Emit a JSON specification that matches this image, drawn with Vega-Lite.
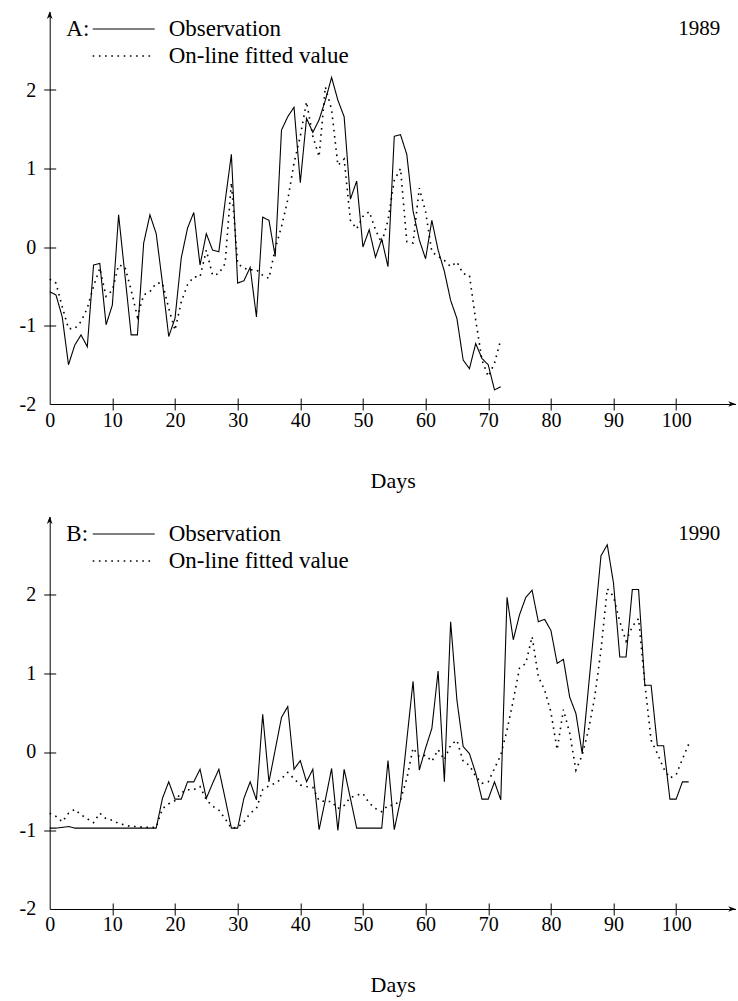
{
  "$schema": "https://vega.github.io/schema/vega-lite/v6.json",
  "background": "white",
  "padding": {"left": 18.7, "top": 11.5, "right": 0, "bottom": 0},
  "spacing": 25,
  "resolve": {"scale": {"strokeDash": "independent", "strokeWidth": "independent"}, "legend": {"strokeDash": "independent"}},
  "config": {
    "view": {"stroke": null},
    "font": "Liberation Serif",
    "axis": {"grid": false, "domainColor": "black", "tickColor": "black", "labelColor": "black", "labelFont": "Liberation Serif", "labelFontSize": 20, "titleFont": "Liberation Serif", "titleFontSize": 22, "titleFontWeight": "normal", "titleColor": "black", "domainWidth": 1, "tickWidth": 1},
    "legend": {"labelFont": "Liberation Serif", "titleFont": "Liberation Serif"}
  },
  "datasets": {
    "a": [
      {"day":0,"Observation":-0.57,"On-line fitted value":-0.41},
      {"day":1,"Observation":-0.61,"On-line fitted value":-0.46},
      {"day":2,"Observation":-0.89,"On-line fitted value":-0.76},
      {"day":3,"Observation":-1.50,"On-line fitted value":-1.04},
      {"day":4,"Observation":-1.25,"On-line fitted value":-1.04},
      {"day":5,"Observation":-1.12,"On-line fitted value":-0.95},
      {"day":6,"Observation":-1.27,"On-line fitted value":-0.78},
      {"day":7,"Observation":-0.23,"On-line fitted value":-0.50},
      {"day":8,"Observation":-0.21,"On-line fitted value":-0.27},
      {"day":9,"Observation":-0.99,"On-line fitted value":-0.63},
      {"day":10,"Observation":-0.74,"On-line fitted value":-0.55},
      {"day":11,"Observation":0.41,"On-line fitted value":-0.23},
      {"day":12,"Observation":-0.35,"On-line fitted value":-0.25},
      {"day":13,"Observation":-1.12,"On-line fitted value":-0.55},
      {"day":14,"Observation":-1.12,"On-line fitted value":-0.89},
      {"day":15,"Observation":0.05,"On-line fitted value":-0.61},
      {"day":16,"Observation":0.41,"On-line fitted value":-0.57},
      {"day":17,"Observation":0.17,"On-line fitted value":-0.46},
      {"day":18,"Observation":-0.46,"On-line fitted value":-0.46},
      {"day":19,"Observation":-1.14,"On-line fitted value":-0.78},
      {"day":20,"Observation":-0.91,"On-line fitted value":-1.06},
      {"day":21,"Observation":-0.14,"On-line fitted value":-0.70},
      {"day":22,"Observation":0.24,"On-line fitted value":-0.48},
      {"day":23,"Observation":0.44,"On-line fitted value":-0.38},
      {"day":24,"Observation":-0.23,"On-line fitted value":-0.38},
      {"day":25,"Observation":0.17,"On-line fitted value":-0.04},
      {"day":26,"Observation":-0.04,"On-line fitted value":-0.36},
      {"day":27,"Observation":-0.06,"On-line fitted value":-0.34},
      {"day":28,"Observation":0.58,"On-line fitted value":-0.21},
      {"day":29,"Observation":1.18,"On-line fitted value":0.82},
      {"day":30,"Observation":-0.46,"On-line fitted value":-0.21},
      {"day":31,"Observation":-0.43,"On-line fitted value":-0.27},
      {"day":32,"Observation":-0.26,"On-line fitted value":-0.29},
      {"day":33,"Observation":-0.89,"On-line fitted value":-0.29},
      {"day":34,"Observation":0.38,"On-line fitted value":-0.36},
      {"day":35,"Observation":0.34,"On-line fitted value":-0.40},
      {"day":36,"Observation":-0.12,"On-line fitted value":-0.02},
      {"day":37,"Observation":1.49,"On-line fitted value":0.26},
      {"day":38,"Observation":1.66,"On-line fitted value":0.60},
      {"day":39,"Observation":1.78,"On-line fitted value":1.07},
      {"day":40,"Observation":0.82,"On-line fitted value":1.41},
      {"day":41,"Observation":1.64,"On-line fitted value":1.85},
      {"day":42,"Observation":1.46,"On-line fitted value":1.41},
      {"day":43,"Observation":1.62,"On-line fitted value":1.15},
      {"day":44,"Observation":1.87,"On-line fitted value":2.04},
      {"day":45,"Observation":2.16,"On-line fitted value":1.75},
      {"day":46,"Observation":1.87,"On-line fitted value":1.04},
      {"day":47,"Observation":1.66,"On-line fitted value":1.12},
      {"day":48,"Observation":0.61,"On-line fitted value":0.34},
      {"day":49,"Observation":0.84,"On-line fitted value":0.23},
      {"day":50,"Observation":0.00,"On-line fitted value":0.39},
      {"day":51,"Observation":0.22,"On-line fitted value":0.45},
      {"day":52,"Observation":-0.13,"On-line fitted value":0.22},
      {"day":53,"Observation":0.10,"On-line fitted value":0.05},
      {"day":54,"Observation":-0.25,"On-line fitted value":0.34},
      {"day":55,"Observation":1.41,"On-line fitted value":0.85},
      {"day":56,"Observation":1.43,"On-line fitted value":1.00},
      {"day":57,"Observation":1.18,"On-line fitted value":0.07},
      {"day":58,"Observation":0.46,"On-line fitted value":0.05},
      {"day":59,"Observation":0.09,"On-line fitted value":0.75},
      {"day":60,"Observation":-0.15,"On-line fitted value":0.45},
      {"day":61,"Observation":0.34,"On-line fitted value":-0.06},
      {"day":62,"Observation":-0.04,"On-line fitted value":-0.12},
      {"day":63,"Observation":-0.31,"On-line fitted value":-0.17},
      {"day":64,"Observation":-0.68,"On-line fitted value":-0.25},
      {"day":65,"Observation":-0.91,"On-line fitted value":-0.19},
      {"day":66,"Observation":-1.44,"On-line fitted value":-0.34},
      {"day":67,"Observation":-1.55,"On-line fitted value":-0.36},
      {"day":68,"Observation":-1.23,"On-line fitted value":-0.93},
      {"day":69,"Observation":-1.42,"On-line fitted value":-1.44},
      {"day":70,"Observation":-1.50,"On-line fitted value":-1.65},
      {"day":71,"Observation":-1.82,"On-line fitted value":-1.48},
      {"day":72,"Observation":-1.78,"On-line fitted value":-1.18}
    ],
    "b": [
      {"day":0,"Observation":-0.97,"On-line fitted value":-0.78},
      {"day":1,"Observation":-0.97,"On-line fitted value":-0.82},
      {"day":2,"Observation":-0.96,"On-line fitted value":-0.89},
      {"day":3,"Observation":-0.95,"On-line fitted value":-0.78},
      {"day":4,"Observation":-0.97,"On-line fitted value":-0.73},
      {"day":5,"Observation":-0.97,"On-line fitted value":-0.80},
      {"day":6,"Observation":-0.97,"On-line fitted value":-0.85},
      {"day":7,"Observation":-0.97,"On-line fitted value":-0.90},
      {"day":8,"Observation":-0.97,"On-line fitted value":-0.78},
      {"day":9,"Observation":-0.97,"On-line fitted value":-0.85},
      {"day":10,"Observation":-0.97,"On-line fitted value":-0.87},
      {"day":11,"Observation":-0.97,"On-line fitted value":-0.91},
      {"day":12,"Observation":-0.97,"On-line fitted value":-0.93},
      {"day":13,"Observation":-0.97,"On-line fitted value":-0.95},
      {"day":14,"Observation":-0.97,"On-line fitted value":-0.95},
      {"day":15,"Observation":-0.97,"On-line fitted value":-0.96},
      {"day":16,"Observation":-0.97,"On-line fitted value":-0.96},
      {"day":17,"Observation":-0.97,"On-line fitted value":-0.96},
      {"day":18,"Observation":-0.59,"On-line fitted value":-0.72},
      {"day":19,"Observation":-0.38,"On-line fitted value":-0.66},
      {"day":20,"Observation":-0.60,"On-line fitted value":-0.62},
      {"day":21,"Observation":-0.60,"On-line fitted value":-0.52},
      {"day":22,"Observation":-0.38,"On-line fitted value":-0.48},
      {"day":23,"Observation":-0.38,"On-line fitted value":-0.48},
      {"day":24,"Observation":-0.22,"On-line fitted value":-0.44},
      {"day":25,"Observation":-0.59,"On-line fitted value":-0.61},
      {"day":26,"Observation":-0.40,"On-line fitted value":-0.69},
      {"day":27,"Observation":-0.22,"On-line fitted value":-0.74},
      {"day":28,"Observation":-0.59,"On-line fitted value":-0.85},
      {"day":29,"Observation":-0.97,"On-line fitted value":-0.97},
      {"day":30,"Observation":-0.97,"On-line fitted value":-0.96},
      {"day":31,"Observation":-0.59,"On-line fitted value":-0.89},
      {"day":32,"Observation":-0.38,"On-line fitted value":-0.78},
      {"day":33,"Observation":-0.61,"On-line fitted value":-0.72},
      {"day":34,"Observation":0.48,"On-line fitted value":-0.48},
      {"day":35,"Observation":-0.38,"On-line fitted value":-0.43},
      {"day":36,"Observation":0.03,"On-line fitted value":-0.40},
      {"day":37,"Observation":0.44,"On-line fitted value":-0.34},
      {"day":38,"Observation":0.58,"On-line fitted value":-0.26},
      {"day":39,"Observation":-0.22,"On-line fitted value":-0.34},
      {"day":40,"Observation":-0.11,"On-line fitted value":-0.42},
      {"day":41,"Observation":-0.38,"On-line fitted value":-0.44},
      {"day":42,"Observation":-0.22,"On-line fitted value":-0.45},
      {"day":43,"Observation":-0.99,"On-line fitted value":-0.62},
      {"day":44,"Observation":-0.61,"On-line fitted value":-0.63},
      {"day":45,"Observation":-0.21,"On-line fitted value":-0.63},
      {"day":46,"Observation":-1.00,"On-line fitted value":-0.72},
      {"day":47,"Observation":-0.22,"On-line fitted value":-0.68},
      {"day":48,"Observation":-0.59,"On-line fitted value":-0.58},
      {"day":49,"Observation":-0.97,"On-line fitted value":-0.55},
      {"day":50,"Observation":-0.97,"On-line fitted value":-0.53},
      {"day":51,"Observation":-0.97,"On-line fitted value":-0.65},
      {"day":52,"Observation":-0.97,"On-line fitted value":-0.72},
      {"day":53,"Observation":-0.97,"On-line fitted value":-0.76},
      {"day":54,"Observation":-0.11,"On-line fitted value":-0.68},
      {"day":55,"Observation":-0.99,"On-line fitted value":-0.68},
      {"day":56,"Observation":-0.61,"On-line fitted value":-0.61},
      {"day":57,"Observation":0.15,"On-line fitted value":-0.34},
      {"day":58,"Observation":0.90,"On-line fitted value":0.05},
      {"day":59,"Observation":-0.23,"On-line fitted value":-0.06},
      {"day":60,"Observation":0.05,"On-line fitted value":-0.04},
      {"day":61,"Observation":0.30,"On-line fitted value":-0.12},
      {"day":62,"Observation":1.03,"On-line fitted value":0.03},
      {"day":63,"Observation":-0.38,"On-line fitted value":-0.10},
      {"day":64,"Observation":1.66,"On-line fitted value":0.09},
      {"day":65,"Observation":0.66,"On-line fitted value":0.15},
      {"day":66,"Observation":0.07,"On-line fitted value":-0.12},
      {"day":67,"Observation":-0.02,"On-line fitted value":-0.17},
      {"day":68,"Observation":-0.27,"On-line fitted value":-0.31},
      {"day":69,"Observation":-0.60,"On-line fitted value":-0.40},
      {"day":70,"Observation":-0.60,"On-line fitted value":-0.38},
      {"day":71,"Observation":-0.38,"On-line fitted value":-0.21},
      {"day":72,"Observation":-0.61,"On-line fitted value":-0.04},
      {"day":73,"Observation":1.97,"On-line fitted value":0.28},
      {"day":74,"Observation":1.43,"On-line fitted value":0.66},
      {"day":75,"Observation":1.75,"On-line fitted value":1.07},
      {"day":76,"Observation":1.97,"On-line fitted value":1.13},
      {"day":77,"Observation":2.06,"On-line fitted value":1.47},
      {"day":78,"Observation":1.66,"On-line fitted value":0.96},
      {"day":79,"Observation":1.69,"On-line fitted value":0.79},
      {"day":80,"Observation":1.55,"On-line fitted value":0.51},
      {"day":81,"Observation":1.13,"On-line fitted value":0.03},
      {"day":82,"Observation":1.18,"On-line fitted value":0.54},
      {"day":83,"Observation":0.70,"On-line fitted value":0.24},
      {"day":84,"Observation":0.49,"On-line fitted value":-0.23},
      {"day":85,"Observation":-0.02,"On-line fitted value":-0.04},
      {"day":86,"Observation":0.82,"On-line fitted value":0.28},
      {"day":87,"Observation":1.66,"On-line fitted value":0.70},
      {"day":88,"Observation":2.50,"On-line fitted value":1.30},
      {"day":89,"Observation":2.64,"On-line fitted value":2.08},
      {"day":90,"Observation":2.15,"On-line fitted value":1.98},
      {"day":91,"Observation":1.21,"On-line fitted value":1.66},
      {"day":92,"Observation":1.21,"On-line fitted value":1.41},
      {"day":93,"Observation":2.07,"On-line fitted value":1.60},
      {"day":94,"Observation":2.07,"On-line fitted value":1.70},
      {"day":95,"Observation":0.85,"On-line fitted value":0.87},
      {"day":96,"Observation":0.85,"On-line fitted value":0.15},
      {"day":97,"Observation":0.08,"On-line fitted value":-0.02},
      {"day":98,"Observation":0.08,"On-line fitted value":-0.21},
      {"day":99,"Observation":-0.60,"On-line fitted value":-0.33},
      {"day":100,"Observation":-0.60,"On-line fitted value":-0.29},
      {"day":101,"Observation":-0.38,"On-line fitted value":-0.09},
      {"day":102,"Observation":-0.38,"On-line fitted value":0.10}
    ]
  },
  "vconcat": [
    {
      "width": 686, "height": 392.5,
      "layer": [
        {
          "data": {"name": "a"},
          "transform": [{"fold": ["Observation", "On-line fitted value"], "as": ["series", "value"]}],
          "mark": {"type": "line", "color": "black"},
          "encoding": {
            "x": {"field": "day", "type": "quantitative", "scale": {"domain": [0, 109.5], "nice": false, "zero": false},
                  "axis": {"orient": "bottom", "values": [0,10,20,30,40,50,60,70,80,90,100], "ticks": false, "tickSize": 0, "labelPadding": 6, "labelFlush": false, "labelOverlap": false, "title": "Days", "titlePadding": 40}},
            "y": {"field": "value", "type": "quantitative", "scale": {"domain": [-2, 3], "nice": false, "zero": false},
                  "axis": {"orient": "left", "values": [-2,-1,0,1,2], "ticks": false, "tickSize": 0, "labelPadding": 14, "labelExpr": "replace(datum.label, '\u2212', '-')", "title": null}},
            "strokeWidth": {"field": "series", "type": "nominal", "scale": {"domain": ["Observation", "On-line fitted value"], "range": [1.1, 1.6]}, "legend": null},
            "strokeDash": {"field": "series", "type": "nominal", "scale": {"domain": ["Observation", "On-line fitted value"], "range": [[1, 0], [1.6, 4.6]]},
                  "legend": {"orient": "none", "legendX": 42, "legendY": 4, "title": null, "symbolType": "stroke", "symbolSize": 3844, "clipHeight": 27, "symbolStrokeWidth": 1.3, "symbolStrokeColor": "black", "labelFontSize": 23, "labelColor": "black", "labelOffset": 13, "rowPadding": 0, "labelLimit": 400}}
          }
        },
        {
          "data": {"values": [{}]},
          "mark": {"type": "point", "shape": "M0,0L-1,-0.38L-0.7,0L-1,0.38Z", "filled": true, "color": "black", "opacity": 1, "size": 225},
          "encoding": {
            "x": {"datum": 109.5, "type": "quantitative", "axis": {"orient": "bottom", "values": [10,20,30,40,50,60,70,80,90,100], "domain": false, "labels": false, "ticks": true, "tickSize": 12, "offset": -6, "title": null}},
            "y": {"datum": -2, "type": "quantitative", "axis": {"orient": "left", "values": [-1,0,1,2], "domain": false, "labels": false, "ticks": true, "tickSize": 12, "offset": -6, "title": null}}
          }
        },
        {
          "data": {"values": [{}]},
          "mark": {"type": "point", "shape": "M0,0L-0.38,1L0,0.7L0.38,1Z", "filled": true, "color": "black", "opacity": 1, "size": 225},
          "encoding": {
            "x": {"datum": 0, "type": "quantitative", "axis": null},
            "y": {"datum": 3, "type": "quantitative", "axis": null}
          }
        },
        {
          "data": {"values": [{}]},
          "mark": {"type": "text", "align": "right", "baseline": "middle", "fontSize": 21, "font": "Liberation Serif", "color": "black"},
          "encoding": {
            "x": {"datum": 107.05, "type": "quantitative", "axis": null},
            "y": {"datum": 2.78, "type": "quantitative", "axis": null},
            "text": {"value": "1989"}
          }
        },
        {
          "data": {"values": [{}]},
          "mark": {"type": "text", "align": "left", "baseline": "middle", "fontSize": 23, "font": "Liberation Serif", "color": "black"},
          "encoding": {
            "x": {"datum": 2.65, "type": "quantitative", "axis": null},
            "y": {"datum": 2.78, "type": "quantitative", "axis": null},
            "text": {"value": "A:"}
          }
        }
      ],
      "resolve": {"axis": {"x": "independent", "y": "independent"}}
    },
    {
      "width": 686, "height": 392.5,
      "layer": [
        {
          "data": {"name": "b"},
          "transform": [{"fold": ["Observation", "On-line fitted value"], "as": ["series", "value"]}],
          "mark": {"type": "line", "color": "black"},
          "encoding": {
            "x": {"field": "day", "type": "quantitative", "scale": {"domain": [0, 109.5], "nice": false, "zero": false},
                  "axis": {"orient": "bottom", "values": [0,10,20,30,40,50,60,70,80,90,100], "ticks": false, "tickSize": 0, "labelPadding": 6, "labelFlush": false, "labelOverlap": false, "title": "Days", "titlePadding": 40}},
            "y": {"field": "value", "type": "quantitative", "scale": {"domain": [-2, 3], "nice": false, "zero": false},
                  "axis": {"orient": "left", "values": [-2,-1,0,1,2], "ticks": false, "tickSize": 0, "labelPadding": 14, "labelExpr": "replace(datum.label, '\u2212', '-')", "title": null}},
            "strokeWidth": {"field": "series", "type": "nominal", "scale": {"domain": ["Observation", "On-line fitted value"], "range": [1.1, 1.6]}, "legend": null},
            "strokeDash": {"field": "series", "type": "nominal", "scale": {"domain": ["Observation", "On-line fitted value"], "range": [[1, 0], [1.6, 4.6]]},
                  "legend": {"orient": "none", "legendX": 42, "legendY": 4, "title": null, "symbolType": "stroke", "symbolSize": 3844, "clipHeight": 27, "symbolStrokeWidth": 1.3, "symbolStrokeColor": "black", "labelFontSize": 23, "labelColor": "black", "labelOffset": 13, "rowPadding": 0, "labelLimit": 400}}
          }
        },
        {
          "data": {"values": [{}]},
          "mark": {"type": "point", "shape": "M0,0L-1,-0.38L-0.7,0L-1,0.38Z", "filled": true, "color": "black", "opacity": 1, "size": 225},
          "encoding": {
            "x": {"datum": 109.5, "type": "quantitative", "axis": {"orient": "bottom", "values": [10,20,30,40,50,60,70,80,90,100], "domain": false, "labels": false, "ticks": true, "tickSize": 12, "offset": -6, "title": null}},
            "y": {"datum": -2, "type": "quantitative", "axis": {"orient": "left", "values": [-1,0,1,2], "domain": false, "labels": false, "ticks": true, "tickSize": 12, "offset": -6, "title": null}}
          }
        },
        {
          "data": {"values": [{}]},
          "mark": {"type": "point", "shape": "M0,0L-0.38,1L0,0.7L0.38,1Z", "filled": true, "color": "black", "opacity": 1, "size": 225},
          "encoding": {
            "x": {"datum": 0, "type": "quantitative", "axis": null},
            "y": {"datum": 3, "type": "quantitative", "axis": null}
          }
        },
        {
          "data": {"values": [{}]},
          "mark": {"type": "text", "align": "right", "baseline": "middle", "fontSize": 21, "font": "Liberation Serif", "color": "black"},
          "encoding": {
            "x": {"datum": 107.05, "type": "quantitative", "axis": null},
            "y": {"datum": 2.78, "type": "quantitative", "axis": null},
            "text": {"value": "1990"}
          }
        },
        {
          "data": {"values": [{}]},
          "mark": {"type": "text", "align": "left", "baseline": "middle", "fontSize": 23, "font": "Liberation Serif", "color": "black"},
          "encoding": {
            "x": {"datum": 2.65, "type": "quantitative", "axis": null},
            "y": {"datum": 2.78, "type": "quantitative", "axis": null},
            "text": {"value": "B:"}
          }
        }
      ],
      "resolve": {"axis": {"x": "independent", "y": "independent"}}
    }
  ]
}
